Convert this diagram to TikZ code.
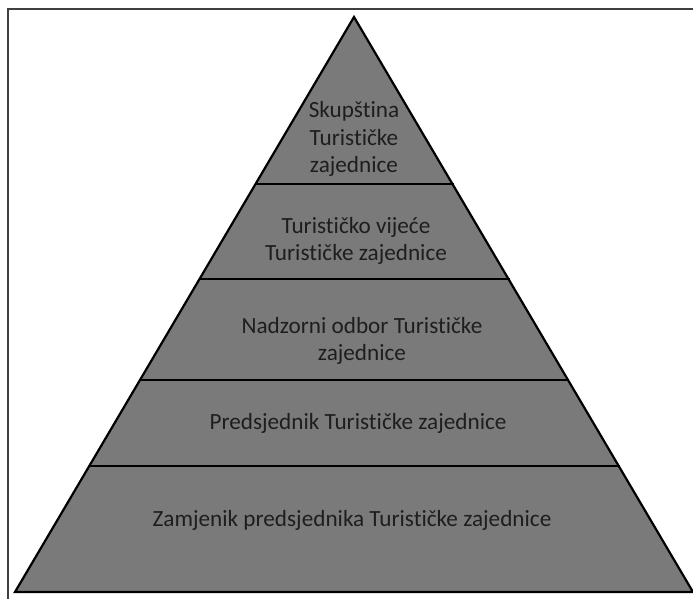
\documentclass[tikz,border=0pt]{standalone}
\usepackage{fontspec}
\setmainfont[Ligatures={NoCommon}]{Carlito}
\definecolor{pyrgray}{HTML}{7A7A7A}
\definecolor{pyrtext}{HTML}{1E1E1E}
\definecolor{framegray}{HTML}{404040}
\begin{document}
\begin{tikzpicture}[x=1pt,y=-1pt,
  levelline/.style={draw=black,line width=2.2pt},
  leveltext/.style={text=pyrtext,align=center,font=\fontsize{23.2}{27.5}\selectfont,inner sep=0pt},
  pyr/.style={fill=pyrgray,draw=black,line width=2.2pt,line join=miter}]
\useasboundingbox (0,0) rectangle (693,599);
\clip (0,0) rectangle (693,599);
\fill[white] (0,0) rectangle (693,599);
\draw[framegray,line width=2pt] (8,9) rectangle (720,640);
\coordinate (apex) at (354,17);
\coordinate (bl) at (15,592);
\coordinate (br) at (693,592);
\draw[pyr] (apex) -- (bl) -- (br) -- cycle;
\coordinate (l1a) at (254.5,184); \coordinate (l1b) at (453.5,184);
\coordinate (l2a) at (198.5,279); \coordinate (l2b) at (509.5,279);
\coordinate (l3a) at (139,380);   \coordinate (l3b) at (569,380);
\coordinate (l4a) at (88.5,466);  \coordinate (l4b) at (619.5,466);
\draw[levelline] (l1a) -- (l1b);
\draw[levelline] (l2a) -- (l2b);
\draw[levelline] (l3a) -- (l3b);
\draw[levelline] (l4a) -- (l4b);
\node[leveltext] (t1) at (354,139) {Skupština\\Turističke\\zajednice};
\node[leveltext] (t2) at (356,241) {Turističko vijeće\\Turističke zajednice};
\node[leveltext] (t3) at (362,341) {Nadzorni odbor Turističke\\zajednice};
\node[leveltext] (t4) at (358,423) {Predsjednik Turističke zajednice};
\node[leveltext] (t5) at (352,520) {Zamjenik predsjednika Turističke zajednice};
\end{tikzpicture}
\end{document}
